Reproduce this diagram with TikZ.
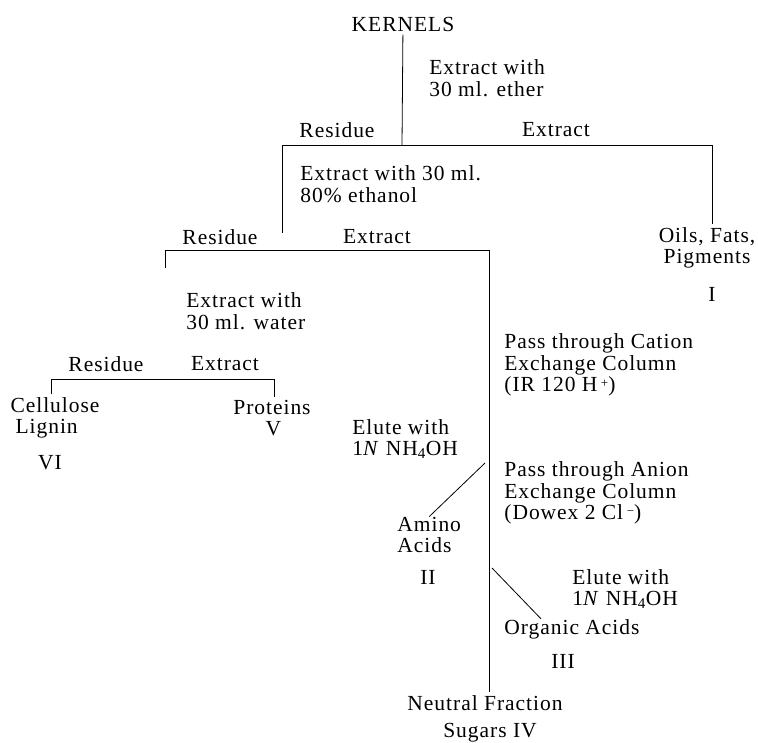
\documentclass[tikz,border=0pt]{standalone}
\usepackage{fontspec}
\setmainfont[LetterSpace=4.5]{Liberation Serif}
\usetikzlibrary{positioning}
\newcommand\ionsup[1]{\,\raisebox{0.45ex}{\fontsize{13}{13}\selectfont #1}}

\begin{document}
\begin{tikzpicture}[x=1pt,y=-1pt,line width=0.8pt,
  every node/.style={font=\fontsize{21.5}{21.5}\selectfont},
  txt/.style={inner sep=0pt,align=left,anchor=west},
  lbl/.style={inner sep=0pt}]
\useasboundingbox (0,0) rectangle (758,742);
% first split: ether
\node[lbl,inner sep=3pt] (kern) at (403,24) {KERNELS};
\node[txt] (eth) at (429,78) {Extract with\\30 ml. ether};
\node[lbl] (res1) at (337,130) {Residue};
\node[lbl] (ext1) at (556,130) {Extract};
\node[lbl,align=center,inner sep=3pt] (oils) at (707,248) {Oils, Fats,\\Pigments};
\node[lbl] (f1) at (712,294) {I};
% second split: ethanol
\node[txt] (alc) at (300,184) {Extract with 30 ml.\\80\% ethanol};
\node[lbl] (res2) at (220,237) {Residue};
\node[lbl] (ext2) at (377,237) {Extract};
% third split: water
\node[txt] (wat) at (186,311) {Extract with\\30 ml. water};
\node[lbl] (res3) at (106,364) {Residue};
\node[lbl] (ext3) at (225,364) {Extract};
\node[lbl,align=left,inner sep=3pt] (cell) at (55,418) {Cellulose\\\hspace{5pt}Lignin};
\node[lbl] (f6) at (50,463) {VI};
\node[lbl,align=center,inner sep=3pt] (prot) at (272,418) {Proteins\\\hspace{3pt}V};
% columns
\node[txt] (cat) at (504,365) {Pass through Cation\\Exchange Column\\(IR 120 H\ionsup{+})};
\node[txt] (el1) at (352,439) {Elute with\\1\textit{N} NH\textsubscript{4}OH};
\node[txt] (an) at (504,493) {Pass through Anion\\Exchange Column\\(Dowex 2 Cl\ionsup{−})};
\node[txt] (amino) at (397,535) {Amino\\Acids};
\node[lbl] (f2) at (428,577) {II};
\node[txt] (el2) at (572,589) {Elute with\\1\textit{N} NH\textsubscript{4}OH};
\node[txt] (org) at (504,629) {Organic Acids};
\node[lbl] (f3) at (563,661) {III};
\node[lbl,inner sep=3pt] (neu) at (485,703) {Neutral Fraction};
\node[lbl,anchor=base] (sug) at (490,737) {Sugars IV};
% bracket corners
\coordinate (k1) at (402,145);
\coordinate (b1a) at (282,233);
\coordinate (b1b) at (282,145);
\coordinate (b1c) at (712,145);
\coordinate (b2a) at (165,268);
\coordinate (b2b) at (165,250);
\coordinate (b2c) at (489,250);
\coordinate (b3b) at (51,379);
\coordinate (b3c) at (274,379);
\coordinate (d1) at (485,463);
\coordinate (d2) at (492,568);
\coordinate (d3) at (541,0);
\draw (kern) -- (k1);
\draw (b1a) -- (b1b) -- (b1c) -- (oils.north -| b1c);
\draw (b2a) -- (b2b) -- (b2c) -- (neu.north -| b2c);
\draw (cell.north -| b3b) -- (b3b) -- (b3c) -- (prot.north -| b3c);
\draw (d1) -- (amino.north);
\draw (d2) -- (org.north -| d3);
\end{tikzpicture}
\end{document}
